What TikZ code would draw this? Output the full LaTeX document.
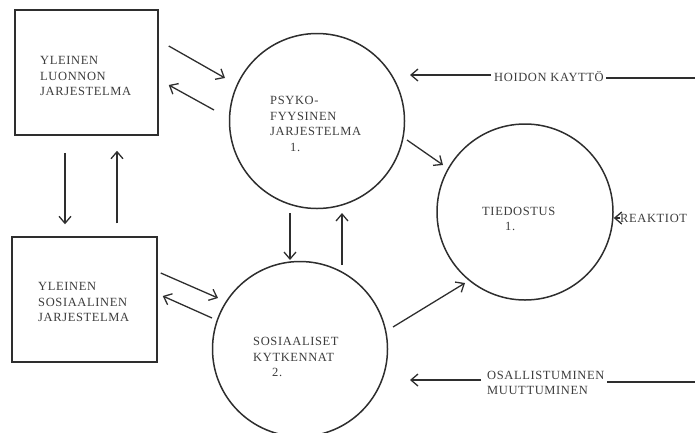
\documentclass[tikz,border=0pt]{standalone}
\usepackage{fontspec}
\setmainfont{Liberation Serif}[LetterSpace=5]
\usetikzlibrary{arrows.meta,calc}
\definecolor{ink}{HTML}{2E2E2E}
\definecolor{txt}{HTML}{3C3C3C}
\tikzset{
  shapeline/.style={draw=ink,line width=1.5pt},
  boxnode/.style={shapeline,rectangle,inner sep=0pt},
  circnode/.style={shapeline,circle,inner sep=0pt,minimum size=175pt},
  lbl/.style={text=txt,font=\fontsize{12.5}{15.5}\selectfont,align=left,inner sep=0pt},
  arr/.style={draw=ink,line width=1.3pt,-{Straight Barb[length=7pt,width=12pt,line width=1.3pt]}},
  plain/.style={draw=ink,line width=1.3pt}
}
\begin{document}
\begin{tikzpicture}[x=1pt,y=-1pt]
\useasboundingbox (0,0) rectangle (695,432);
\clip (0,0) rectangle (695,432);
% shapes
\node[boxnode,minimum width=143pt,minimum height=125pt] (b1) at (86.5,72.5) {};
\node[boxnode,minimum width=145pt,minimum height=125pt] (b2) at (84.5,299.5) {};
\node[circnode] (c1) at (317,121) {};
\node[circnode] (c2) at (300,349) {};
\node[circnode,minimum size=176pt] (c3) at (525,212) {};
% labels
\node[lbl,anchor=west] (t1) at (40,76) {YLEINEN\\LUONNON\\JARJESTELMA};
\node[lbl,anchor=west] (t2) at (38,302) {YLEINEN\\SOSIAALINEN\\JARJESTELMA};
\node[lbl,anchor=west] (tc1) at (270,124) {PSYKO-\\FYYSINEN\\JARJESTELMA\\\hspace*{20pt}1.};
\node[lbl,anchor=west] (tc2) at (253,357) {SOSIAALISET\\KYTKENNAT\\\hspace*{19pt}2.};
\node[lbl,anchor=west] (tc3) at (482,219) {TIEDOSTUS\\\hspace*{23pt}1.};
% connectors between shapes
\draw[arr] ([shift={(10,-26.5)}]b1.east) -- ([shift={(-92,-43)}]c1.center);
\draw[arr] ([shift={(-103,-11)}]c1.center) -- ([shift={(10,12.5)}]b1.east);
\draw[arr] ([shift={(-21.5,17)}]b1.south) -- ([shift={(-19.5,-12)}]b2.north);
\draw[arr] ([shift={(32.5,-13)}]b2.north) -- ([shift={(30.5,15)}]b1.south);
\draw[arr] ([shift={(3,-26.5)}]b2.east) -- ([shift={(-82,-51)}]c2.center);
\draw[arr] ([shift={(-88,-31)}]c2.center) -- ([shift={(5,-3.5)}]b2.east);
\draw[arr] ([shift={(-27,92)}]c1.center) -- ([shift={(-10,-89)}]c2.center);
\draw[arr] ([shift={(42,-84)}]c2.center) -- ([shift={(25,92)}]c1.center);
\draw[arr] ([shift={(90,19)}]c1.center) -- ([shift={(-82,-47)}]c3.center);
\draw[arr] ([shift={(93,-22)}]c2.center) -- ([shift={(-60,71)}]c3.center);
% external inputs
\node[lbl,anchor=center] (hoi) at (549,76) {HOIDON KAYTTÖ};
\coordinate (hoR) at (695,78);
\coordinate (hoTip) at (410,75);
\draw[plain] (hoR) -- ([xshift=2pt]hoi.east |- hoR);
\draw[arr] ([xshift=-3pt]hoi.west |- hoTip) -- (hoTip);

\node[lbl,anchor=west] (rea) at (620,218) {REAKTIOT};
\draw[arr] (rea.west) -- (c3.east |- rea.west);

\node[lbl,anchor=west] (osa) at (487,383) {OSALLISTUMINEN\\MUUTTUMINEN};
\coordinate (osR) at (695,382);
\coordinate (osTip) at (410,380);
\draw[plain] (osR) -- ([xshift=2pt]osa.east |- osR);
\draw[arr] ([xshift=-6pt]osa.west |- osTip) -- (osTip);
\end{tikzpicture}
\end{document}
